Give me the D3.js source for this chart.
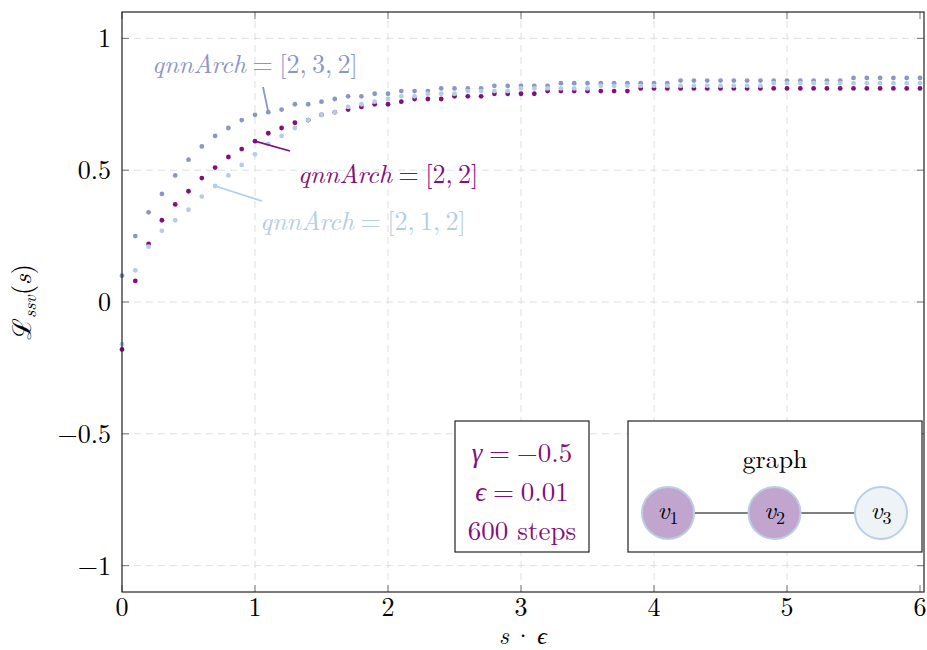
<!DOCTYPE html>
<html lang="en">
  <head>
    <meta charset="UTF-8" />
    <script src="https://d3js.org/d3.v7.min.js"></script>
    <title>Loss ssv</title>
    <style>
      body { margin: 0; background: #fff; }
      .grid line { stroke: #dedede; stroke-dasharray: 7,5; }
      .tick-mark { stroke: #777; stroke-width: 1; }
      .frame { fill: none; stroke: #222; stroke-width: 1.2; }
    </style>
  </head>
  <body>
    <script>
      // loss values, sampled every 0.1 of s*eps
      const arch232 = [0.10, 0.25, 0.34, 0.41, 0.48, 0.54, 0.59, 0.63, 0.66, 0.69,
        0.71, 0.72, 0.73, 0.75, 0.75, 0.76, 0.77, 0.78, 0.78, 0.79,
        0.79, 0.80, 0.80, 0.80, 0.81, 0.81, 0.81, 0.81, 0.82, 0.82,
        0.82, 0.82, 0.82, 0.83, 0.83, 0.83, 0.83, 0.83, 0.83, 0.83,
        0.83, 0.83, 0.84, 0.84, 0.84, 0.84, 0.84, 0.84, 0.84, 0.84,
        0.84, 0.84, 0.84, 0.84, 0.84, 0.85, 0.85, 0.85, 0.85, 0.85, 0.85]
      const arch22 = [-0.18, 0.08, 0.22, 0.31, 0.37, 0.42, 0.47, 0.51, 0.55, 0.58,
        0.61, 0.64, 0.66, 0.68, 0.69, 0.71, 0.72, 0.73, 0.74, 0.75,
        0.75, 0.76, 0.77, 0.77, 0.77, 0.78, 0.78, 0.78, 0.79, 0.79,
        0.79, 0.79, 0.80, 0.80, 0.80, 0.80, 0.80, 0.80, 0.80, 0.81,
        0.81, 0.81, 0.81, 0.81, 0.81, 0.81, 0.81, 0.81, 0.81, 0.81,
        0.81, 0.81, 0.81, 0.81, 0.81, 0.81, 0.81, 0.81, 0.81, 0.81, 0.81]
      const arch212 = [-0.16, 0.12, 0.21, 0.27, 0.31, 0.35, 0.40, 0.44, 0.48, 0.52,
        0.56, 0.60, 0.63, 0.66, 0.69, 0.71, 0.72, 0.74, 0.75, 0.76,
        0.77, 0.78, 0.78, 0.79, 0.79, 0.79, 0.80, 0.80, 0.80, 0.80,
        0.81, 0.81, 0.81, 0.81, 0.81, 0.81, 0.82, 0.82, 0.82, 0.82,
        0.82, 0.82, 0.82, 0.82, 0.82, 0.82, 0.82, 0.82, 0.82, 0.83,
        0.83, 0.83, 0.83, 0.83, 0.83, 0.83, 0.83, 0.83, 0.83, 0.83, 0.83]
      const stepSize = 0.1

      const xTicks = [0, 1, 2, 3, 4, 5, 6]
      const yTicks = [-1, -0.5, 0, 0.5, 1]

      // drawn in this order (last on top)
      const series = [
        { name: '[2,\u20093,\u20092]', values: arch232, color: '#8c96c6', at: 1.1, label: [152, 73], pin: [263, 87] },
        { name: '[2,\u20092]', values: arch22, color: '#810f7c', at: 1.0, label: [298, 183], pin: [290, 151] },
        { name: '[2,\u20091,\u20092]', values: arch212, color: '#b3cde3', at: 0.7, label: [260, 230], pin: [262, 201] }
      ]

      const infoLines = [
        [{ t: 'γ', i: true }, { t: '\u2005=\u2005−0.5' }],
        [{ t: 'ϵ', i: true }, { t: '\u2005=\u20050.01' }],
        [{ t: '600 steps' }]
      ]
      const nodes = [
        { id: 'v', sub: '1', fill: '#c2a5cf' },
        { id: 'v', sub: '2', fill: '#c2a5cf' },
        { id: 'v', sub: '3', fill: '#eef3f8' }
      ]
      const edges = [[0, 1], [1, 2]]

      const width = 927
      const height = 650
      const margin = { top: 12, right: 3, bottom: 58, left: 122 }
      const serif = 'CMU Serif, "Latin Modern Roman", "Liberation Serif", "DejaVu Serif", "Noto Serif", FreeSerif, serif'
      const fs = '26px'

      const svg = d3.select('body')
        .append('svg')
        .attr('width', width)
        .attr('height', height)
        .style('font-family', serif)

      const x = d3.scaleLinear()
        .domain([0, 6.03])
        .range([margin.left, width - margin.right])
      const y = d3.scaleLinear()
        .domain([-1.1, 1.1])
        .range([height - margin.bottom, margin.top])

      const x0 = x.range()[0], x1 = x.range()[1]
      const y0 = y.range()[0], y1 = y.range()[1]

      // grid
      const grid = svg.append('g').attr('class', 'grid')
      grid.selectAll('.gx')
        .data(xTicks.filter(d => d > 0 && d < 6))
        .join('line')
        .attr('x1', d => x(d)).attr('x2', d => x(d))
        .attr('y1', y0).attr('y2', y1)
      grid.selectAll('.gy')
        .data(yTicks)
        .join('line')
        .attr('x1', x0).attr('x2', x1)
        .attr('y1', d => y(d)).attr('y2', d => y(d))

      // ticks, inside on all four sides
      const tickLen = 7
      const ticks = svg.append('g')
      xTicks.forEach(d => {
        ticks.append('line').attr('class', 'tick-mark')
          .attr('x1', x(d)).attr('x2', x(d)).attr('y1', y0).attr('y2', y0 - tickLen)
        ticks.append('line').attr('class', 'tick-mark')
          .attr('x1', x(d)).attr('x2', x(d)).attr('y1', y1).attr('y2', y1 + tickLen)
      })
      yTicks.forEach(d => {
        ticks.append('line').attr('class', 'tick-mark')
          .attr('x1', x0).attr('x2', x0 + tickLen).attr('y1', y(d)).attr('y2', y(d))
        ticks.append('line').attr('class', 'tick-mark')
          .attr('x1', x1).attr('x2', x1 - tickLen).attr('y1', y(d)).attr('y2', y(d))
      })

      // tick labels
      svg.append('g').selectAll('text')
        .data(xTicks)
        .join('text')
        .attr('x', d => x(d))
        .attr('y', y0 + 24)
        .attr('text-anchor', 'middle')
        .style('font-size', fs)
        .text(d => d)
      svg.append('g').selectAll('text')
        .data(yTicks)
        .join('text')
        .attr('x', x0 - 11)
        .attr('y', d => y(d) + 9)
        .attr('text-anchor', 'end')
        .style('font-size', fs)
        .text(d => d < 0 ? '−' + Math.abs(d) : d)

      // axis labels
      const xl = svg.append('text')
        .attr('x', (x0 + x1) / 2)
        .attr('y', 644)
        .attr('text-anchor', 'middle')
        .style('font-size', '24px')
      xl.append('tspan').style('font-style', 'italic').text('s')
      xl.append('tspan').text('\u2009·\u2009')
      xl.append('tspan').style('font-style', 'italic').text('ϵ')

      const yl = svg.append('text')
        .attr('transform', `translate(31,${(y0 + y1) / 2}) rotate(-90)`)
        .attr('text-anchor', 'middle')
        .style('font-size', fs)
      yl.append('tspan').text('ℒ')
      yl.append('tspan').style('font-style', 'italic').style('font-size', '18px').attr('dy', 5).text('ssv')
      yl.append('tspan').attr('dy', -5).text('(')
      yl.append('tspan').style('font-style', 'italic').text('s')
      yl.append('tspan').text(')')

      // points
      series.forEach(s => {
        svg.append('g').selectAll('circle')
          .data(s.values)
          .join('circle')
          .attr('cx', (d, i) => x(i * stepSize))
          .attr('cy', d => y(d))
          .attr('r', 2.4)
          .attr('fill', s.color)
      })

      // annotations
      series.forEach(s => {
        const idx = Math.round(s.at / stepSize)
        svg.append('line')
          .attr('x1', x(s.at)).attr('y1', y(s.values[idx]))
          .attr('x2', s.pin[0]).attr('y2', s.pin[1])
          .attr('stroke', s.color)
          .attr('stroke-width', 1.8)
        const t = svg.append('text')
          .attr('x', s.label[0])
          .attr('y', s.label[1])
          .attr('fill', s.color)
          .style('font-size', fs)
        t.append('tspan').style('font-style', 'italic').text('qnnArch')
        t.append('tspan').text('\u2005=\u2005' + s.name)
      })

      // info box
      const info = svg.append('g')
      info.append('rect')
        .attr('x', 455).attr('y', 421)
        .attr('width', 134).attr('height', 131)
        .attr('fill', '#fff').attr('stroke', '#222').attr('stroke-width', 1.2)
      infoLines.forEach((parts, i) => {
        const t = info.append('text')
          .attr('x', 522)
          .attr('y', 462 + i * 39)
          .attr('text-anchor', 'middle')
          .attr('fill', '#810f7c')
          .style('font-size', '27px')
        parts.forEach(p => t.append('tspan').style('font-style', p.i ? 'italic' : 'normal').text(p.t))
      })

      // graph box
      const gb = svg.append('g')
      gb.append('rect')
        .attr('x', 628).attr('y', 421)
        .attr('width', 294).attr('height', 131)
        .attr('fill', '#fff').attr('stroke', '#222').attr('stroke-width', 1.2)
      gb.append('text')
        .attr('x', 775).attr('y', 468)
        .attr('text-anchor', 'middle')
        .style('font-size', fs)
        .text('graph')
      const nx = d3.scalePoint()
        .domain(nodes.map((d, i) => i))
        .range([668, 881])
      const ny = 513
      gb.selectAll('.edge')
        .data(edges)
        .join('line')
        .attr('x1', d => nx(d[0])).attr('x2', d => nx(d[1]))
        .attr('y1', ny).attr('y2', ny)
        .attr('stroke', '#555').attr('stroke-width', 1.3)
      const ng = gb.selectAll('.node')
        .data(nodes)
        .join('g')
        .attr('transform', (d, i) => `translate(${nx(i)},${ny})`)
      ng.append('circle')
        .attr('r', 26)
        .attr('fill', d => d.fill)
        .attr('stroke', '#b9cfe4')
        .attr('stroke-width', 2)
      const nt = ng.append('text')
        .attr('text-anchor', 'middle')
        .attr('y', 6)
        .style('font-size', fs)
      nt.append('tspan').style('font-style', 'italic').text(d => d.id)
      nt.append('tspan').attr('dy', 5).style('font-size', '18px').text(d => d.sub)

      // frame
      svg.append('rect')
        .attr('class', 'frame')
        .attr('x', x0).attr('y', y1)
        .attr('width', x1 - x0).attr('height', y0 - y1)
    </script>
  </body>
</html>
